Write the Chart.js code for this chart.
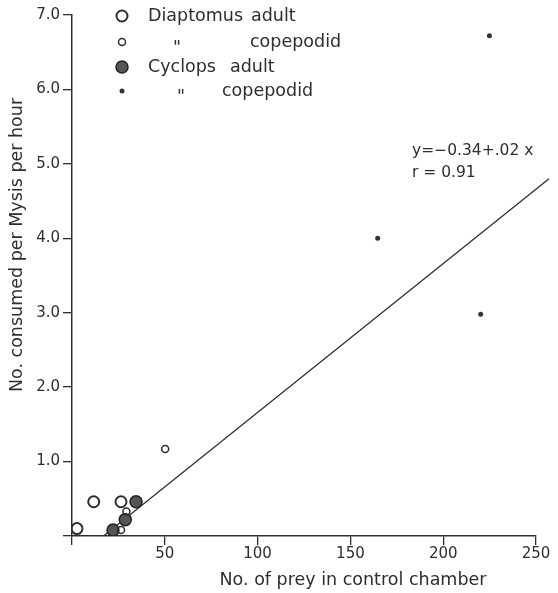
<!DOCTYPE html>
<html>
<head>
<meta charset="utf-8">
<script src="https://cdn.jsdelivr.net/npm/chart.js@4/dist/chart.umd.min.js"></script>
<style>
  html, body { margin: 0; padding: 0; background: #fff; }
  #wrap { width: 558px; height: 593px; }
</style>
</head>
<body>
<div id="wrap"><canvas id="chart" width="558" height="593"></canvas></div>
<script>
// Prey consumption by Mysis versus prey density in the control chamber
const diaptomusAdultX = [2.7, 11.7, 26.4];
const diaptomusAdultY = [0.10, 0.46, 0.46];
const diaptomusCopepodidX = [50.2, 29.3, 26.4];
const diaptomusCopepodidY = [1.17, 0.33, 0.08];
const cyclopsAdultX = [34.5, 28.7, 22.1];
const cyclopsAdultY = [0.46, 0.22, 0.08];
const cyclopsCopepodidX = [224.9, 164.7, 220.2];
const cyclopsCopepodidY = [6.72, 4.00, 2.98];

// Fitted regression, as printed on the figure
const regressionIntercept = -0.34;
const regressionSlope = 0.02;
const regressionR = 0.91;
const regressionFromX = 17;
const regressionToX = 257;

const xTickValues = [0, 50, 100, 150, 200, 250];
const yTickValues = [0, 1, 2, 3, 4, 5, 6, 7];

const xTitle = 'No. of prey in control chamber';
const yTitle = 'No. consumed per Mysis per hour';

const INK = '#2e2e2e';
const FONT = '"DejaVu Sans", "Liberation Sans", sans-serif';

const pts = (xs, ys) => xs.map((x, i) => ({ x, y: ys[i] }));
const fit = x => regressionIntercept + regressionSlope * x;

const styles = {
  diaptomusAdult: { pointRadius: 5.5, borderWidth: 2, borderColor: INK, backgroundColor: 'rgba(255,255,255,0)' },
  diaptomusCopepodid: { pointRadius: 3.5, borderWidth: 1.5, borderColor: INK, backgroundColor: 'rgba(255,255,255,0)' },
  cyclopsAdult: { pointRadius: 6, borderWidth: 1.5, borderColor: '#222', backgroundColor: '#555' },
  cyclopsCopepodid: { pointRadius: 2.5, borderWidth: 0, borderColor: '#333', backgroundColor: '#333' }
};

function marker(ctx, x, y, s) {
  ctx.beginPath();
  ctx.arc(x, y, s.pointRadius, 0, Math.PI * 2);
  ctx.fillStyle = s.backgroundColor;
  ctx.fill();
  if (s.borderWidth > 0) {
    ctx.lineWidth = s.borderWidth;
    ctx.strokeStyle = s.borderColor;
    ctx.stroke();
  }
}

// Key, regression note and axis titles drawn on top of the plot
const notes = {
  id: 'notes',
  afterDraw(chart) {
    const { ctx, chartArea: a } = chart;
    ctx.save();
    ctx.fillStyle = INK;
    ctx.textBaseline = 'middle';
    ctx.textAlign = 'left';
    ctx.font = '17.5px ' + FONT;

    const mx = a.left + 50;
    const rows = [a.top + 1, a.top + 27, a.top + 52, a.top + 76];

    marker(ctx, mx, rows[0], styles.diaptomusAdult);
    ctx.fillStyle = INK;
    ctx.fillText('Diaptomus', a.left + 76, rows[0]);
    ctx.fillText('adult', a.left + 179, rows[0]);

    marker(ctx, mx, rows[1], styles.diaptomusCopepodid);
    ctx.fillStyle = INK;
    ctx.fillText('"', a.left + 101, rows[1] + 6);
    ctx.fillText('copepodid', a.left + 178, rows[1]);

    marker(ctx, mx, rows[2], styles.cyclopsAdult);
    ctx.fillStyle = INK;
    ctx.fillText('Cyclops', a.left + 76, rows[2]);
    ctx.fillText('adult', a.left + 158, rows[2]);

    marker(ctx, mx, rows[3], styles.cyclopsCopepodid);
    ctx.fillStyle = INK;
    ctx.fillText('"', a.left + 105, rows[3] + 6);
    ctx.fillText('copepodid', a.left + 150, rows[3]);

    ctx.font = '15.5px ' + FONT;
    const b = regressionSlope.toFixed(2).replace(/^0/, '');
    ctx.fillText('y=\u2212' + Math.abs(regressionIntercept).toFixed(2) + '+' + b + ' x', a.left + 340, a.top + 136);
    ctx.fillText('r = ' + regressionR.toFixed(2), a.left + 340, a.top + 158);

    ctx.font = '17.5px ' + FONT;
    ctx.textAlign = 'center';
    ctx.fillText(xTitle, a.left + 281, 580);

    ctx.translate(17, 245);
    ctx.rotate(-Math.PI / 2);
    ctx.fillText(yTitle, 0, 0);
    ctx.restore();
  }
};

const axisCommon = {
  type: 'linear',
  grid: { drawOnChartArea: false, drawTicks: true, tickLength: 9, color: INK, lineWidth: 1.3 },
  border: { display: true, color: INK, width: 1.5 },
  ticks: { color: INK, font: { family: FONT, size: 15 } }
};

new Chart(document.getElementById('chart'), {
  type: 'scatter',
  data: {
    datasets: [
      {
        label: 'regression',
        type: 'line',
        data: [regressionFromX, regressionToX].map(x => ({ x, y: fit(x) })),
        borderColor: INK,
        borderWidth: 1.3,
        pointRadius: 0,
        clip: false,
        order: 5
      },
      Object.assign({ label: 'Diaptomus adult', data: pts(diaptomusAdultX, diaptomusAdultY), order: 2 }, styles.diaptomusAdult),
      Object.assign({ label: 'Diaptomus copepodid', data: pts(diaptomusCopepodidX, diaptomusCopepodidY), order: 1 }, styles.diaptomusCopepodid),
      Object.assign({ label: 'Cyclops adult', data: pts(cyclopsAdultX, cyclopsAdultY), order: 3 }, styles.cyclopsAdult),
      Object.assign({ label: 'Cyclops copepodid', data: pts(cyclopsCopepodidX, cyclopsCopepodidY), order: 1 }, styles.cyclopsCopepodid)
    ]
  },
  options: {
    responsive: false,
    animation: false,
    layout: { padding: { top: 15, right: 22, left: 0, bottom: 0 } },
    plugins: { legend: { display: false }, tooltip: { enabled: false } },
    scales: {
      x: Object.assign({}, axisCommon, {
        min: 0, max: 250,
        afterBuildTicks: s => { s.ticks = xTickValues.map(v => ({ value: v })); },
        afterFit: s => { s.height = 57; },
        ticks: Object.assign({}, axisCommon.ticks, { padding: 0, maxRotation: 0, callback: v => v === 0 ? '' : String(v) })
      }),
      y: Object.assign({}, axisCommon, {
        min: 0, max: 7,
        afterBuildTicks: s => { s.ticks = yTickValues.map(v => ({ value: v })); },
        afterFit: s => { s.width = 72; },
        ticks: Object.assign({}, axisCommon.ticks, { padding: 3, callback: v => v === 0 ? '' : v.toFixed(1) })
      })
    }
  },
  plugins: [notes]
});
</script>
</body>
</html>
